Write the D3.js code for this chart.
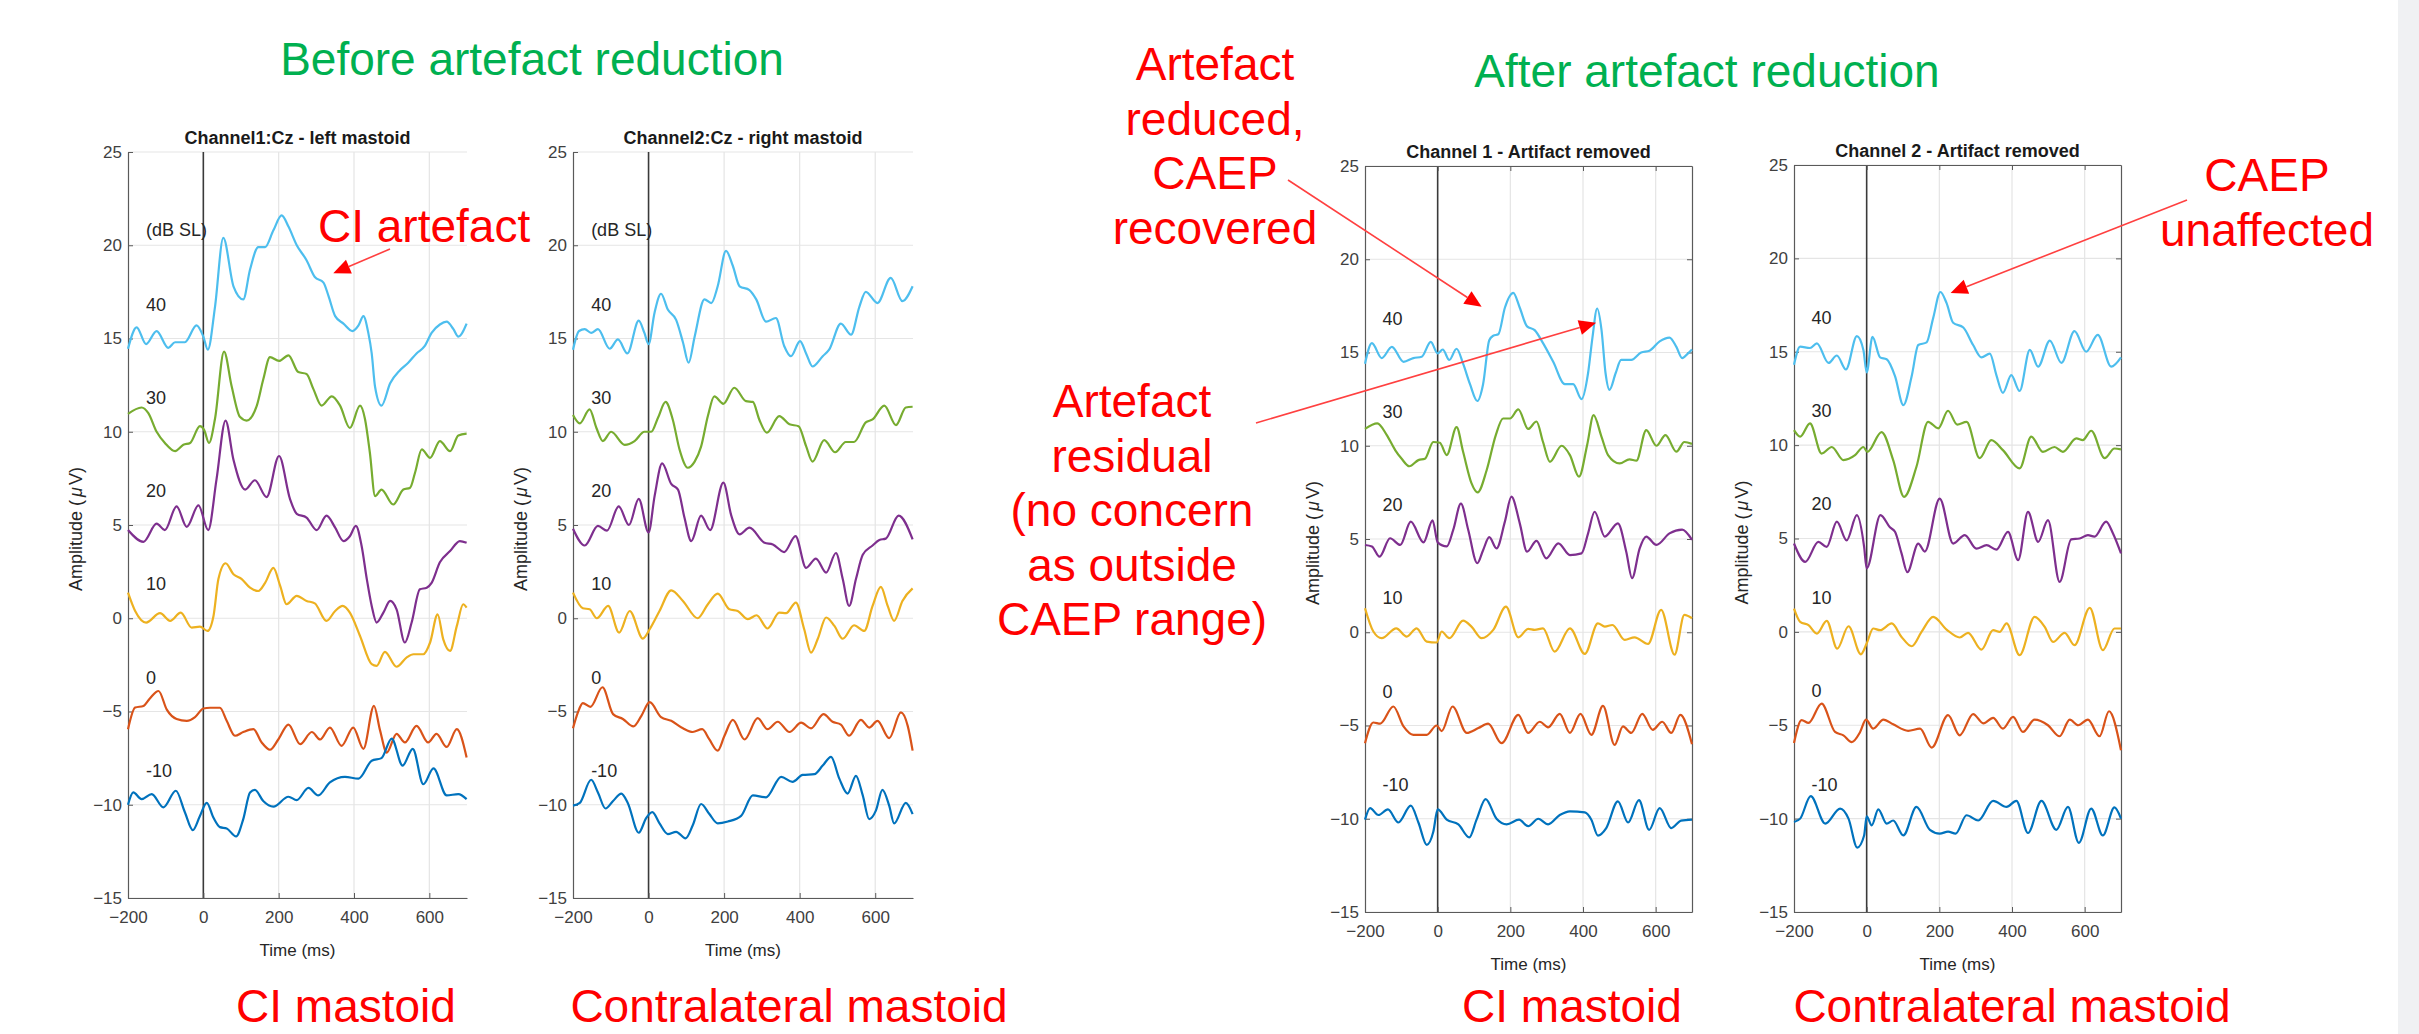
<!DOCTYPE html>
<html>
<head>
<meta charset="utf-8">
<script src="https://cdn.jsdelivr.net/npm/d3@7"></script>
<style>
  body { margin: 0; background: #fff; }
  svg { display: block; }
</style>
</head>
<body>
<div id="chart"></div>
<script>
// ---- data: [time (ms), amplitude (uV)] ----
const levels = ["40", "30", "20", "10", "0", "-10"];
const levelColors = ["#4DBEEE", "#77AC30", "#7E2F8E", "#EDB120", "#D95319", "#0072BD"];
const levelLabelY = [16.5, 11.5, 6.5, 1.5, -3.5, -8.5];
const xTicks = [-200, 0, 200, 400, 600];
const yTicks = [-15, -10, -5, 0, 5, 10, 15, 20, 25];
const channelTitles = ["Channel1:Cz - left mastoid", "Channel2:Cz - right mastoid",
  "Channel 1 - Artifact removed", "Channel 2 - Artifact removed"];

// before artefact reduction, channel 1
const b1_40 = [[-200,14.45],[-177,15.6],[-152,14.7],[-124,15.4],[-93,14.5],[-75,14.8],[-49,14.8],[-18,15.7],[0,15.1],[12,14.4],[31,16.7],[53,20.4],[80,17.8],[106,17.1],[124,18.7],[146,19.9],[164,19.9],[186,20.8],[208,21.6],[226,21.0],[248,20.0],[274,19.2],[296,18.3],[319,18.0],[332,17.3],[350,16.2],[372,15.8],[396,15.4],[412,15.7],[425,16.2],[438,15.3],[447,14.2],[456,12.4],[473,11.4],[496,12.6],[522,13.3],[544,13.7],[566,14.2],[588,14.6],[606,15.3],[628,15.75],[646,15.9],[664,15.5],[677,15.1],[699,15.8]];
const b1_30 = [[-200,10.96],[-164,11.3],[-146,11.0],[-124,10.0],[-102,9.4],[-75,8.96],[-53,9.3],[-35,9.4],[-9,10.3],[2,10.1],[15,9.4],[31,10.7],[55,14.3],[75,12.45],[97,10.8],[115,10.6],[142,11.4],[159,12.8],[177,14.0],[201,13.8],[226,14.1],[252,13.2],[274,13.1],[292,12.3],[314,11.4],[341,11.9],[363,11.4],[389,10.2],[416,11.4],[429,10.7],[442,8.9],[456,6.55],[473,6.9],[504,6.1],[531,6.9],[549,7.0],[562,7.8],[580,9.05],[602,8.6],[628,9.5],[655,8.96],[677,9.8],[699,9.9]];
const b1_20 = [[-200,4.73],[-159,4.1],[-124,5.07],[-102,4.73],[-71,6.0],[-44,4.9],[-13,6.05],[13,4.73],[35,7.45],[59,10.6],[80,8.5],[111,6.9],[137,7.4],[168,6.5],[201,8.7],[230,6.4],[248,5.6],[274,5.4],[301,4.73],[327,5.5],[350,4.86],[372,4.14],[389,4.4],[405,4.95],[420,3.9],[434,2.1],[447,0.66],[460,-0.23],[478,0.3],[496,0.93],[513,0.48],[535,-1.3],[553,-0.23],[575,1.55],[593,1.64],[606,1.9],[628,3.0],[655,3.6],[681,4.14],[699,4.05]];
const b1_10 = [[-200,1.375],[-181,0.39],[-152,-0.23],[-115,0.27],[-88,-0.14],[-60,0.3],[-31,-0.5],[-9,-0.45],[11,-0.68],[27,0.125],[40,2.1],[59,2.95],[80,2.36],[102,2.1],[124,1.64],[146,1.46],[164,1.9],[186,2.7],[204,1.73],[221,0.75],[248,1.2],[274,0.93],[296,0.8],[327,-0.14],[350,0.39],[370,0.66],[389,0.3],[416,-0.95],[447,-2.46],[460,-2.55],[482,-1.8],[513,-2.6],[540,-2.1],[558,-1.93],[584,-1.93],[602,-1.3],[622,0.21],[637,-1.13],[655,-1.75],[673,-0.41],[690,0.75],[699,0.57]];
const b1_0 = [[-200,-5.95],[-181,-4.79],[-159,-4.7],[-142,-4.3],[-119,-3.9],[-97,-4.9],[-71,-5.4],[-44,-5.5],[-22,-5.3],[0,-4.84],[18,-4.8],[44,-4.8],[62,-5.5],[84,-6.3],[106,-6.1],[133,-5.95],[155,-6.66],[177,-7.05],[199,-6.5],[226,-5.7],[257,-6.75],[288,-6.1],[310,-6.5],[336,-5.86],[367,-6.84],[398,-5.86],[425,-7.0],[453,-4.7],[469,-6.0],[487,-7.2],[513,-6.2],[535,-6.66],[566,-5.77],[597,-6.66],[619,-6.2],[646,-6.9],[673,-5.95],[699,-7.46]];
const b1_m10 = [[-200,-10.0],[-186,-9.34],[-164,-9.7],[-137,-9.43],[-106,-10.14],[-73,-9.25],[-49,-10.4],[-28,-11.36],[-9,-10.6],[9,-9.9],[27,-10.7],[44,-11.2],[62,-11.27],[87,-11.7],[106,-10.77],[124,-9.34],[137,-9.2],[159,-9.8],[186,-10.1],[226,-9.57],[248,-9.75],[279,-9.1],[305,-9.5],[336,-8.8],[376,-8.5],[412,-8.6],[447,-7.64],[473,-7.5],[500,-6.45],[529,-7.9],[556,-7.0],[584,-8.9],[611,-8.05],[646,-9.5],[677,-9.43],[699,-9.7]];

// before artefact reduction, channel 2
const b2_40 = [[-200,14.4],[-184,15.4],[-169,15.5],[-152,15.3],[-134,15.5],[-103,14.45],[-81,14.95],[-56,14.2],[-26,15.96],[-11,15.3],[0,14.7],[16,16.4],[33,17.4],[51,16.55],[73,16.0],[91,14.8],[106,13.7],[122,15.1],[148,17.1],[166,16.9],[183,17.8],[205,19.7],[223,18.9],[241,17.8],[267,17.6],[285,17.1],[311,15.9],[337,16.1],[359,14.6],[377,14.05],[401,14.86],[417,14.2],[434,13.5],[461,14.05],[478,14.4],[509,15.8],[536,15.2],[558,16.7],[575,17.5],[606,16.9],[641,18.25],[672,17.0],[699,17.8]];
const b2_30 = [[-200,10.9],[-182,10.45],[-156,11.2],[-138,10.2],[-121,9.5],[-99,10.0],[-63,9.3],[-37,9.5],[-11,10.0],[7,10.0],[25,10.75],[45,11.6],[64,10.66],[82,9.05],[104,8.07],[122,8.4],[139,9.2],[157,10.84],[174,11.9],[198,11.5],[227,12.36],[258,11.64],[276,11.6],[293,10.66],[313,9.95],[346,10.84],[373,10.4],[397,10.3],[417,9.23],[434,8.4],[465,9.55],[494,8.9],[522,9.45],[544,9.45],[575,10.5],[593,10.66],[624,11.4],[655,10.36],[681,11.3],[699,11.34]];
const b2_20 = [[-200,4.8],[-169,3.9],[-134,4.95],[-110,4.7],[-79,6.0],[-52,5.0],[-26,6.4],[0,4.6],[16,6.55],[36,8.3],[60,7.2],[78,6.9],[95,5.4],[113,4.14],[139,5.5],[163,4.73],[198,7.27],[219,5.5],[241,4.5],[267,4.86],[307,4.05],[329,3.96],[359,3.55],[389,4.4],[417,2.7],[443,3.2],[470,2.45],[496,3.5],[514,2.1],[531,0.66],[549,2.1],[567,3.4],[593,3.9],[611,4.2],[628,4.27],[662,5.5],[699,4.23]];
const b2_10 = [[-200,1.375],[-174,0.54],[-156,0.48],[-137,0],[-107,0.66],[-78,-0.77],[-50,0.39],[-15,-1.09],[3,-0.59],[29,0.39],[60,1.5],[91,0.93],[130,0],[157,0.75],[183,1.32],[214,0.48],[236,0.39],[263,-0.05],[286,0.16],[315,-0.55],[346,0.3],[364,0.27],[390,0.84],[412,-0.59],[430,-1.84],[448,-1.1],[470,0.04],[492,-0.41],[514,-1.1],[544,-0.375],[571,-0.68],[593,0.66],[615,1.68],[633,0.66],[650,-0.14],[672,0.93],[699,1.6]];
const b2_0 = [[-200,-5.9],[-187,-5.05],[-174,-4.55],[-154,-4.75],[-122,-3.7],[-94,-5.14],[-68,-5.4],[-40,-5.8],[-19,-5.23],[3,-4.5],[33,-5.3],[60,-5.5],[91,-5.9],[117,-6.1],[142,-5.95],[161,-6.5],[183,-7.1],[201,-6.3],[223,-5.45],[254,-6.5],[289,-5.36],[315,-5.95],[342,-5.55],[373,-6.1],[404,-5.6],[430,-5.9],[463,-5.14],[487,-5.55],[509,-5.7],[531,-6.3],[562,-5.45],[584,-5.86],[606,-5.5],[637,-6.43],[668,-5.05],[686,-5.77],[699,-7.1]];
const b2_m10 = [[-200,-10.05],[-182,-9.9],[-152,-8.66],[-134,-9.34],[-114,-10.2],[-94,-9.8],[-72,-9.4],[-55,-9.9],[-26,-11.5],[-6,-10.7],[10,-10.4],[29,-11.0],[51,-11.57],[73,-11.45],[98,-11.8],[117,-11.1],[139,-9.96],[161,-10.5],[183,-11.0],[210,-10.9],[245,-10.6],[276,-9.5],[311,-9.6],[351,-8.5],[381,-8.77],[408,-8.4],[439,-8.36],[461,-7.9],[483,-7.43],[505,-8.6],[527,-9.4],[549,-8.45],[567,-9.5],[584,-10.77],[602,-10.3],[619,-9.2],[637,-10.05],[650,-11.0],[681,-9.9],[699,-10.5]];

// after artefact reduction, channel 1
const a1_40 = [[-200,14.4],[-181,15.5],[-154,14.7],[-126,15.3],[-94,14.5],[-67,14.7],[-44,14.77],[-19,15.57],[0,14.95],[14,15.16],[32,14.6],[52,15.2],[70,14.4],[89,13.3],[109,12.4],[125,13.3],[142,15.66],[153,15.9],[167,15.98],[185,17.4],[208,18.2],[226,17.4],[246,16.4],[267,16.2],[290,15.5],[318,14.5],[350,13.3],[373,13.3],[396,12.5],[414,13.9],[426,15.8],[439,17.36],[451,16.2],[462,13.9],[473,13.0],[490,13.9],[505,14.6],[533,14.6],[560,15.0],[583,15.1],[611,15.6],[638,15.8],[657,15.3],[673,14.7],[689,14.95],[700,15.16]];
const a1_30 = [[-200,10.9],[-166,11.2],[-140,10.57],[-117,9.77],[-99,9.3],[-78,8.9],[-53,9.23],[-35,9.3],[-12,10.2],[6,10.16],[25,9.5],[52,11.0],[70,9.68],[93,8.0],[110,7.5],[135,8.7],[160,10.57],[180,11.46],[199,11.46],[222,11.95],[249,10.9],[272,11.3],[290,10.2],[309,9.14],[341,10.0],[364,9.5],[389,8.34],[412,10.1],[429,11.64],[451,10.48],[469,9.5],[501,9.05],[528,9.27],[547,9.2],[574,10.84],[602,10.0],[627,10.57],[657,9.68],[679,10.2],[700,10.1]];
const a1_20 = [[-200,4.68],[-181,4.6],[-160,4.05],[-131,5.04],[-103,4.68],[-74,5.93],[-39,4.82],[-14,6.0],[0,4.82],[25,4.6],[43,5.5],[64,6.9],[84,5.5],[109,3.7],[125,4.4],[142,5.1],[162,4.5],[185,5.93],[203,7.27],[226,5.84],[246,4.32],[272,4.9],[299,3.96],[332,4.77],[364,4.14],[396,4.23],[414,5.3],[432,6.46],[460,5.13],[496,5.84],[519,4.32],[535,2.9],[556,4.5],[574,5.13],[602,4.68],[638,5.3],[673,5.5],[700,4.95]];
const a1_10 = [[-200,1.29],[-177,0.04],[-154,-0.32],[-114,0.21],[-85,-0.23],[-58,0.21],[-30,-0.5],[-3,-0.55],[11,0.04],[32,-0.32],[70,0.625],[93,0.3],[121,-0.32],[153,0.125],[188,1.375],[222,-0.27],[249,0.18],[267,0.125],[290,0.21],[322,-1.04],[364,0.21],[405,-1.16],[441,0.48],[460,0.3],[481,0.39],[515,-0.41],[542,-0.27],[579,-0.625],[615,1.2],[652,-1.2],[679,0.93],[700,0.75]];
const a1_0 = [[-200,-5.95],[-177,-4.84],[-158,-4.9],[-122,-3.98],[-94,-5.05],[-67,-5.5],[-30,-5.5],[-3,-5.0],[11,-5.3],[41,-3.98],[80,-5.4],[112,-5.14],[139,-4.9],[176,-5.95],[222,-4.43],[249,-5.4],[281,-4.8],[304,-5.1],[336,-4.38],[364,-5.4],[393,-4.38],[423,-5.5],[455,-3.95],[487,-6.04],[510,-5.05],[533,-5.4],[563,-4.38],[592,-5.23],[618,-4.8],[643,-5.4],[668,-4.43],[700,-6.0]];
const a1_m10 = [[-200,-10.05],[-186,-9.43],[-163,-9.8],[-137,-9.5],[-108,-10.2],[-74,-9.3],[-53,-10.2],[-30,-11.4],[-12,-10.7],[0,-9.5],[25,-10.05],[57,-10.3],[87,-11.0],[107,-10.05],[132,-8.95],[162,-10.0],[190,-10.3],[224,-10.05],[249,-10.4],[277,-10.0],[304,-10.3],[336,-9.8],[364,-9.6],[405,-9.66],[423,-10.05],[441,-10.9],[464,-10.5],[496,-9.07],[524,-10.2],[554,-9.0],[582,-10.6],[611,-9.43],[643,-10.5],[670,-10.1],[700,-10.05]];

// after artefact reduction, channel 2
const a2_40 = [[-200,14.3],[-183,15.27],[-156,15.2],[-137,15.45],[-105,14.4],[-82,14.8],[-57,14.05],[-27,15.84],[-9,15.1],[0,13.9],[16,15.8],[37,14.7],[55,14.6],[78,13.7],[101,12.14],[124,13.7],[142,15.36],[165,15.5],[183,16.8],[203,18.2],[220,17.6],[238,16.55],[266,16.3],[293,15.36],[316,14.7],[339,14.9],[357,13.75],[375,12.8],[398,13.75],[421,12.9],[449,15.1],[472,14.2],[504,15.6],[536,14.4],[572,16.1],[604,15.0],[636,15.9],[673,14.2],[700,14.7]];
const a2_30 = [[-200,10.8],[-183,10.45],[-156,11.16],[-124,9.55],[-96,9.9],[-64,9.2],[-32,9.46],[-9,9.9],[2,9.64],[41,10.7],[73,9.2],[103,7.23],[137,8.84],[169,11.25],[197,10.9],[224,11.84],[249,11.1],[275,11.25],[311,9.3],[343,10.27],[375,9.73],[421,8.75],[453,10.45],[485,9.64],[517,9.9],[540,9.64],[577,10.36],[595,10.27],[618,10.77],[655,9.3],[682,9.82],[700,9.77]];
const a2_20 = [[-200,4.73],[-169,3.75],[-133,4.82],[-110,4.55],[-82,5.9],[-55,4.9],[-27,6.25],[-7,4.55],[0,3.4],[38,6.25],[64,5.6],[78,5.36],[96,4.2],[112,3.2],[142,4.73],[160,4.3],[201,7.14],[238,4.73],[270,5.18],[302,4.46],[330,4.64],[357,4.4],[389,5.36],[417,3.84],[444,6.43],[472,4.82],[499,5.98],[531,2.68],[563,4.95],[586,5.0],[609,5.18],[627,5.1],[659,5.9],[678,5.27],[700,4.2]];
const a2_10 = [[-200,1.25],[-183,0.54],[-160,0.36],[-137,-0.09],[-110,0.59],[-81,-0.9],[-50,0.3],[-16,-1.2],[0,-0.625],[18,0.18],[37,0.09],[69,0.45],[96,-0.27],[124,-0.77],[151,0],[183,0.8],[220,0.125],[256,-0.3],[279,-0.05],[316,-0.95],[348,0.09],[366,0],[385,0.45],[421,-1.25],[462,0.8],[490,0.27],[513,-0.54],[545,-0.05],[572,-0.71],[614,1.29],[650,-0.98],[682,0.18],[700,0.18]];
const a2_0 = [[-200,-5.95],[-179,-4.73],[-160,-4.875],[-124,-3.84],[-87,-5.36],[-64,-5.54],[-41,-5.9],[-18,-5.36],[-2,-4.7],[18,-5.18],[46,-4.7],[73,-4.95],[114,-5.3],[147,-5.18],[179,-6.2],[224,-4.46],[256,-5.54],[293,-4.4],[321,-4.9],[348,-4.6],[375,-5.18],[403,-4.55],[430,-5.36],[462,-4.7],[499,-5.0],[531,-5.59],[559,-4.7],[582,-5.0],[609,-4.7],[641,-5.59],[667,-4.25],[700,-6.34]];
const a2_m10 = [[-200,-10.18],[-183,-10.0],[-154,-8.8],[-114,-10.27],[-73,-9.46],[-50,-10.0],[-26,-11.55],[-7,-10.9],[0,-9.875],[14,-10.36],[32,-9.5],[55,-10.27],[73,-10.1],[101,-10.9],[137,-9.375],[174,-10.6],[201,-10.8],[224,-10.7],[245,-10.8],[275,-9.82],[307,-10.1],[348,-9.05],[385,-9.375],[412,-9.05],[444,-10.77],[481,-9.05],[522,-10.6],[554,-9.375],[584,-11.3],[618,-9.46],[650,-10.9],[682,-9.4],[700,-10.0]];

// ---- layout ----
const W = 2419, H = 1034;
const font = "'Liberation Sans', Arial, Helvetica, sans-serif";
const red = "#FF0000", green = "#00B050";

const svg = d3.select("#chart").append("svg")
  .attr("width", W)
  .attr("height", H)
  .style("font-family", font);

svg.append("rect").attr("width", W).attr("height", H).attr("fill", "#fff");
svg.append("rect").attr("x", 2398).attr("width", W - 2398).attr("height", H).attr("fill", "#F0F1F3");

const panels = [
  { title: channelTitles[0], left: 128, right: 467, top: 152, bottom: 898, box: false, unitLabel: true,
    series: [b1_40, b1_30, b1_20, b1_10, b1_0, b1_m10] },
  { title: channelTitles[1], left: 573, right: 913, top: 152, bottom: 898, box: false, unitLabel: true,
    series: [b2_40, b2_30, b2_20, b2_10, b2_0, b2_m10] },
  { title: channelTitles[2], left: 1365, right: 1692, top: 166, bottom: 912, box: true, unitLabel: false,
    series: [a1_40, a1_30, a1_20, a1_10, a1_0, a1_m10] },
  { title: channelTitles[3], left: 1794, right: 2121, top: 165, bottom: 912, box: true, unitLabel: false,
    series: [a2_40, a2_30, a2_20, a2_10, a2_0, a2_m10] }
];

const axisColor = "#5a5a5a";

function styleAxis(g) {
  g.attr("font-family", font).attr("font-size", 17);
  g.select(".domain").attr("stroke", axisColor).attr("stroke-width", 1.2);
  g.selectAll(".tick line").attr("stroke", axisColor);
  g.selectAll(".tick text").attr("fill", "#404040");
}

panels.forEach(p => {
  const x = d3.scaleLinear().domain([-200, 700]).range([p.left, p.right]);
  const y = d3.scaleLinear().domain([-15, 25]).range([p.bottom, p.top]);
  const g = svg.append("g");

  // grid
  g.selectAll(".grid-y").data(yTicks).join("line")
    .attr("x1", p.left).attr("x2", p.right)
    .attr("y1", d => y(d)).attr("y2", d => y(d))
    .attr("stroke", "#e5e5e5").attr("stroke-width", 1.2);
  g.selectAll(".grid-x").data(xTicks.filter(d => d !== 0 && d !== -200)).join("line")
    .attr("x1", d => x(d)).attr("x2", d => x(d))
    .attr("y1", p.top).attr("y2", p.bottom)
    .attr("stroke", "#e5e5e5").attr("stroke-width", 1.2);

  // stimulus onset line
  g.append("line")
    .attr("x1", x(0)).attr("x2", x(0))
    .attr("y1", p.top).attr("y2", p.bottom)
    .attr("stroke", "#3a3a3a").attr("stroke-width", 1.6);

  // axes
  g.append("g").attr("transform", `translate(${p.left},0)`)
    .call(d3.axisLeft(y).tickValues(yTicks).tickSize(-5).tickSizeOuter(0).tickPadding(6))
    .call(styleAxis);
  g.append("g").attr("transform", `translate(0,${p.bottom})`)
    .call(d3.axisBottom(x).tickValues(xTicks).tickSize(-5).tickSizeOuter(0).tickPadding(13))
    .call(styleAxis);
  if (p.box) {
    g.append("g").attr("transform", `translate(${p.right},0)`)
      .call(d3.axisRight(y).tickValues(yTicks).tickSize(-5).tickSizeOuter(0).tickFormat(() => ""))
      .call(styleAxis);
    g.append("g").attr("transform", `translate(0,${p.top})`)
      .call(d3.axisTop(x).tickValues(xTicks).tickSize(-5).tickSizeOuter(0).tickFormat(() => ""))
      .call(styleAxis);
  }

  // waveforms
  const line = d3.line()
    .x(d => x(d[0]))
    .y(d => y(d[1]))
    .curve(d3.curveMonotoneX);

  g.selectAll(".wave").data(p.series).join("path")
    .attr("fill", "none")
    .attr("stroke", (d, i) => levelColors[i])
    .attr("stroke-width", 2.2)
    .attr("d", line);

  // level labels
  g.selectAll(".lvl").data(levels).join("text")
    .attr("x", x(-152))
    .attr("y", (d, i) => y(levelLabelY[i]))
    .attr("font-size", 18)
    .attr("fill", "#262626")
    .text(d => d);
  if (p.unitLabel) {
    g.append("text")
      .attr("x", x(-152)).attr("y", y(20.5))
      .attr("font-size", 18).attr("fill", "#262626")
      .text("(dB SL)");
  }

  // title
  g.append("text")
    .attr("x", (p.left + p.right) / 2).attr("y", p.top - 8)
    .attr("text-anchor", "middle")
    .attr("font-size", 18).attr("font-weight", "bold").attr("fill", "#1a1a1a")
    .text(p.title);

  // axis labels
  g.append("text")
    .attr("x", (p.left + p.right) / 2).attr("y", p.bottom + 58)
    .attr("text-anchor", "middle")
    .attr("font-size", 17).attr("fill", "#262626")
    .text("Time (ms)");

  const yl = g.append("text")
    .attr("transform", `translate(${p.left - 46},${(p.top + p.bottom) / 2 + 4}) rotate(-90)`)
    .attr("text-anchor", "middle")
    .attr("font-size", 18).attr("fill", "#262626");
  yl.append("tspan").text("Amplitude (");
  yl.append("tspan").attr("font-style", "italic").attr("dx", 3).text("μ");
  yl.append("tspan").attr("dx", 2).text("V)");

  p.x = x;
  p.y = y;
});

// ---- slide annotations ----
function bigText(lines, cx, y0, color, anchor) {
  const t = svg.append("text")
    .attr("font-size", 46)
    .attr("fill", color)
    .attr("text-anchor", anchor || "middle");
  lines.forEach((s, i) => {
    t.append("tspan").attr("x", cx).attr("y", y0 + i * 54.6).text(s);
  });
}

bigText(["Before artefact reduction"], 532, 75, green);
bigText(["After artefact reduction"], 1707, 87, green);
bigText(["CI artefact"], 318, 242, red, "start");
bigText(["Artefact", "reduced,", "CAEP", "recovered"], 1215, 80, red);
bigText(["Artefact", "residual", "(no concern", "as outside", "CAEP range)"], 1132, 417, red);
bigText(["CAEP", "unaffected"], 2267, 191, red);
bigText(["CI mastoid"], 346, 1022, red);
bigText(["Contralateral mastoid"], 789, 1022, red);
bigText(["CI mastoid"], 1572, 1022, red);
bigText(["Contralateral mastoid"], 2012, 1022, red);

// arrows: start in page px, tip in the data coordinates of a panel
const arrows = [
  { from: [390, 249], panel: 0, tip: [345, 18.5] },
  { from: [1288, 180], panel: 2, tip: [121, 17.45] },
  { from: [1256, 423], panel: 2, tip: [436, 16.6] },
  { from: [2187, 200], panel: 3, tip: [231, 18.15] }
];

arrows.forEach(a => {
  const p = panels[a.panel];
  const tx = p.x(a.tip[0]), ty = p.y(a.tip[1]);
  const [fx, fy] = a.from;
  const len = Math.hypot(tx - fx, ty - fy);
  const ux = (tx - fx) / len, uy = (ty - fy) / len;
  const headL = 17, headW = 7.5;
  const bx = tx - ux * headL, by = ty - uy * headL;
  svg.append("line")
    .attr("x1", fx).attr("y1", fy).attr("x2", bx).attr("y2", by)
    .attr("stroke", "#FF4040").attr("stroke-width", 1.6);
  svg.append("path")
    .attr("d", `M${tx},${ty}L${bx - uy * headW},${by + ux * headW}L${bx + uy * headW},${by - ux * headW}Z`)
    .attr("fill", red);
});
</script>
</body>
</html>
